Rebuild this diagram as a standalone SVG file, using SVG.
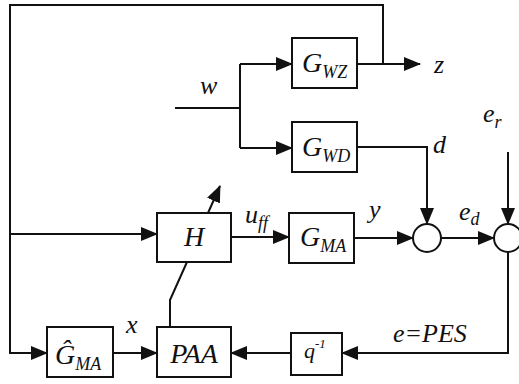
<svg xmlns="http://www.w3.org/2000/svg" width="519" height="384" viewBox="0 0 519 384">
<defs>
<marker id="a" markerUnits="userSpaceOnUse" markerWidth="17" markerHeight="14" refX="16" refY="7" orient="auto">
<path d="M0,0 L17,7 L0,14 Z" fill="#111" stroke="none"/>
</marker>
</defs>
<rect width="519" height="384" fill="#fff"/>
<g id="connectors" fill="none" stroke="#111" stroke-width="2">
<polyline points="383,64 383,5 10,5 10,353 47,353" marker-end="url(#a)"/>
<line x1="10" y1="234" x2="157" y2="234" marker-end="url(#a)"/>
<line x1="175" y1="108" x2="240" y2="108"/>
<line x1="240" y1="64" x2="240" y2="148"/>
<line x1="240" y1="64" x2="292" y2="64" marker-end="url(#a)"/>
<line x1="240" y1="148" x2="292" y2="148" marker-end="url(#a)"/>
<line x1="357" y1="64" x2="420" y2="64" marker-end="url(#a)"/>
<polyline points="357,147 427,147 427,224" marker-end="url(#a)"/>
<line x1="508" y1="152" x2="508" y2="224" marker-end="url(#a)"/>
<line x1="231" y1="237" x2="289" y2="237" marker-end="url(#a)"/>
<line x1="354" y1="238" x2="413" y2="238" marker-end="url(#a)"/>
<line x1="441" y1="238" x2="494" y2="238" marker-end="url(#a)"/>
<polyline points="508,252 508,353 342,353" marker-end="url(#a)"/>
<line x1="291" y1="353" x2="231" y2="353" marker-end="url(#a)"/>
<line x1="113" y1="353" x2="157" y2="353" marker-end="url(#a)"/>
<polyline points="187,262 170,300 170,327"/>
<line x1="208" y1="213" x2="220" y2="186" marker-end="url(#a)"/>
</g>
<g id="GWZ"><rect x="292" y="38" width="65" height="50" fill="#fff" stroke="#111" stroke-width="2"/><text x="302" y="72" font-family="Liberation Serif, Times New Roman, serif" font-style="italic" font-size="28" fill="#111">G<tspan font-size="18" dy="6">WZ</tspan></text></g>
<g id="GWD"><rect x="292" y="122" width="65" height="50" fill="#fff" stroke="#111" stroke-width="2"/><text x="302" y="156" font-family="Liberation Serif, Times New Roman, serif" font-style="italic" font-size="28" fill="#111">G<tspan font-size="18" dy="6">WD</tspan></text></g>
<g id="H"><rect x="157" y="213" width="74" height="49" fill="#fff" stroke="#111" stroke-width="2"/><text x="194" y="246" font-family="Liberation Serif, Times New Roman, serif" font-style="italic" font-size="28" fill="#111" text-anchor="middle">H</text></g>
<g id="GMA"><rect x="289" y="213" width="65" height="50" fill="#fff" stroke="#111" stroke-width="2"/><text x="300" y="246" font-family="Liberation Serif, Times New Roman, serif" font-style="italic" font-size="28" fill="#111">G<tspan font-size="18" dy="6">MA</tspan></text></g>
<g id="GhatMA"><rect x="47" y="327" width="66" height="50" fill="#fff" stroke="#111" stroke-width="2"/><text x="55" y="364" font-family="Liberation Serif, Times New Roman, serif" font-style="italic" font-size="28" fill="#111">Ĝ<tspan font-size="18" dy="6">MA</tspan></text></g>
<g id="PAA"><rect x="157" y="327" width="74" height="50" fill="#fff" stroke="#111" stroke-width="2"/><text x="194" y="363" font-family="Liberation Serif, Times New Roman, serif" font-style="italic" font-size="28" fill="#111" text-anchor="middle">PAA</text></g>
<g id="q"><rect x="291" y="333" width="51" height="42" fill="#fff" stroke="#111" stroke-width="2"/><text x="304" y="358" font-family="Liberation Serif, Times New Roman, serif" font-style="italic" font-size="22" fill="#111">q<tspan font-size="13" dy="-10">-1</tspan></text></g>
<g id="sum1"><circle cx="427" cy="238" r="14" fill="#fff" stroke="#111" stroke-width="2"/></g>
<g id="sum2"><circle cx="508" cy="238" r="14" fill="#fff" stroke="#111" stroke-width="2"/></g>
<g id="labels" font-size="26" fill="#111">
<text x="200" y="94" font-family="Liberation Serif, Times New Roman, serif" font-style="italic">w</text>
<text x="434" y="73" font-family="Liberation Serif, Times New Roman, serif" font-style="italic">z</text>
<text x="433" y="153" font-family="Liberation Serif, Times New Roman, serif" font-style="italic">d</text>
<text x="483" y="122" font-family="Liberation Serif, Times New Roman, serif" font-style="italic">e<tspan font-size="18" dy="6">r</tspan></text>
<text x="459" y="220" font-family="Liberation Serif, Times New Roman, serif" font-style="italic">e<tspan font-size="18" dy="5">d</tspan></text>
<text x="369" y="218" font-family="Liberation Serif, Times New Roman, serif" font-style="italic">y</text>
<text x="245" y="223" font-family="Liberation Serif, Times New Roman, serif" font-style="italic">u<tspan font-size="18" dy="6">ff</tspan></text>
<text x="126" y="333" font-family="Liberation Serif, Times New Roman, serif" font-style="italic">x</text>
<text x="393" y="342" font-family="Liberation Serif, Times New Roman, serif" font-style="italic">e=PES</text>
</g>
</svg>
